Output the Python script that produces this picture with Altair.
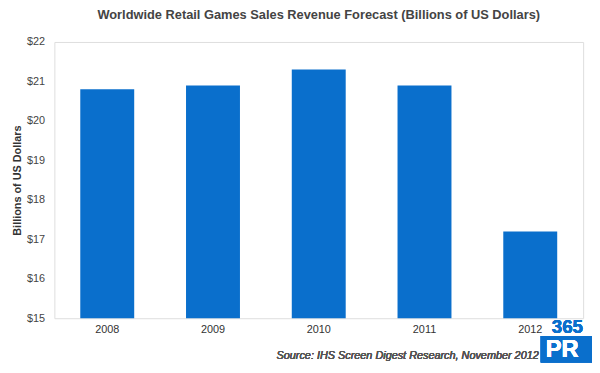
import altair as alt
import pandas as pd

years = ["2008", "2009", "2010", "2011", "2012"]
revenue = [20.8, 20.9, 21.3, 20.9, 17.2]
y_ticks = [15, 16, 17, 18, 19, 20, 21, 22]

df = pd.DataFrame({"year": years, "revenue": revenue})

FONT = "Liberation Sans"
BLUE = "#0A6FCC"

bars = alt.Chart(df).mark_bar(color=BLUE).encode(
    x=alt.X("year:N", title=None,
            scale=alt.Scale(paddingInner=0.49, paddingOuter=0.245),
            axis=alt.Axis(labelAngle=0, labelFont=FONT, labelFontSize=11,
                          labelColor="#333", ticks=False, domain=False,
                          labelPadding=6)),
    y=alt.Y("revenue:Q", title="Billions of US Dollars",
            scale=alt.Scale(domain=[15, 22], zero=False, nice=False),
            axis=alt.Axis(values=y_ticks, format="$.0f", grid=False, ticks=False,
                          domain=False, labelFont=FONT, labelFontSize=11,
                          labelColor="#444", labelPadding=10,
                          titleFont=FONT, titleFontSize=11, titleFontWeight="bold",
                          titleColor="#333", titlePadding=4)),
    y2=alt.datum(15),
)

source = alt.Chart(df).mark_text(
    text="Source: IHS Screen Digest Research, November 2012",
    font=FONT, fontSize=11, fontStyle="italic", color="#555", align="right",
    baseline="middle",
).encode(x=alt.value(491), y=alt.value(318))

logo_num = alt.Chart(df).mark_text(
    text="365", font=FONT, fontSize=19, fontWeight="bold", color=BLUE,
    align="center", baseline="middle",
).encode(x=alt.value(520), y=alt.value(289))

logo_box = alt.Chart(df).mark_rect(color=BLUE).encode(
    x=alt.value(493), x2=alt.value(545), y=alt.value(298), y2=alt.value(325))

logo_pr = alt.Chart(df).mark_text(
    text="PR", font=FONT, fontSize=24, fontWeight="bold", color="white",
    align="left", baseline="middle",
).encode(x=alt.value(498), y=alt.value(312))

chart = alt.layer(bars, source, logo_box, logo_pr, logo_num).properties(
    width=536, height=280,
    autosize=alt.AutoSizeParams(type="none"),
    padding={"left": 47, "top": 32, "right": 9, "bottom": 45},
    title=alt.Title("Worldwide Retail Games Sales Revenue Forecast (Billions of US Dollars)",
                    font=FONT, fontSize=13, fontWeight="bold", color="#444",
                    anchor="middle", offset=14),
).configure_view(stroke="#7a7a7a", strokeWidth=1.5).configure(background="white")

chart.save("out.html", embed_options={"renderer": "svg", "actions": False})
